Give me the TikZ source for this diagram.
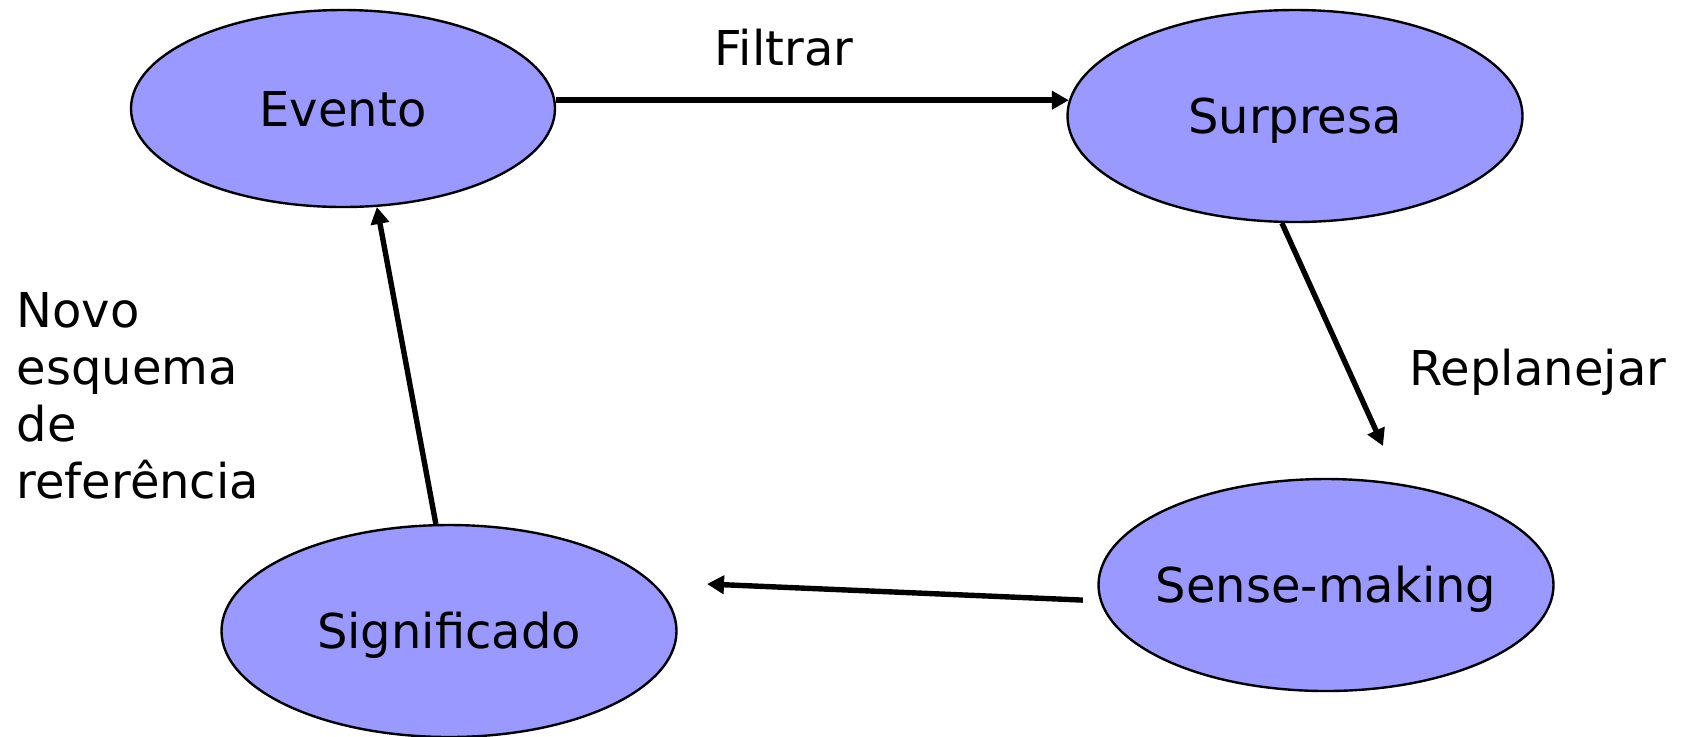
\documentclass[tikz,border=0pt]{standalone}
\usepackage{fontspec}
\setmainfont{DejaVu Sans}
\usepackage{xcolor}
\usepackage{tikz}
\usetikzlibrary{arrows.meta}
\usetikzlibrary{shapes.geometric}
\definecolor{lilas}{RGB}{153,153,255}

\begin{document}
\begin{tikzpicture}[x=0.5pt,y=-0.5pt,line width=2.7pt]
	\tikzstyle{estado}=[draw, ellipse, fill=lilas, line width=1.2pt, inner sep=0pt, inner xsep=-5pt, minimum width=227.5pt, minimum height=106pt, text height=17.5pt, text depth=0pt, font=\fontsize{24}{28.5}\selectfont]
	\tikzstyle{seta}=[-{Triangle[length=8.5pt,width=9pt]}]
	\tikzstyle{rot}=[inner sep=0pt, font=\fontsize{24}{28.5}\selectfont]
	\useasboundingbox (0,0) rectangle (1684,736);

		\node[estado, minimum width=212pt, minimum height=98.5pt] (ev) at (343,108.5) {Evento};
		\node[estado] (sp) at (1295,116) {Surpresa};
		\node[estado] (sm) at (1326,585) {Sense-making};
		\node[estado] (sg) at (449,631) {Significado};

		\coordinate (rp) at (1383,446);
		\coordinate (sg-e) at (707,584);

		\draw[seta] (ev.east |- sp.176) -- (sp.176);
		\draw[seta] (sp.-97) -- (rp);
		\draw[seta, shorten <=8.5pt] (sm.184) -- (sg-e);
		\draw[seta] (sg.97) -- (ev.-71);

		\node[rot, anchor=base west] (filtrar) at (712,65) {Filtrar};
		\node[rot, anchor=base west] (replan) at (1407,385) {Replanejar};
		\node[rot, anchor=north west, align=left] (novo) at (14,290) {Novo\\esquema\\de\\referência};
\end{tikzpicture}
\end{document}
